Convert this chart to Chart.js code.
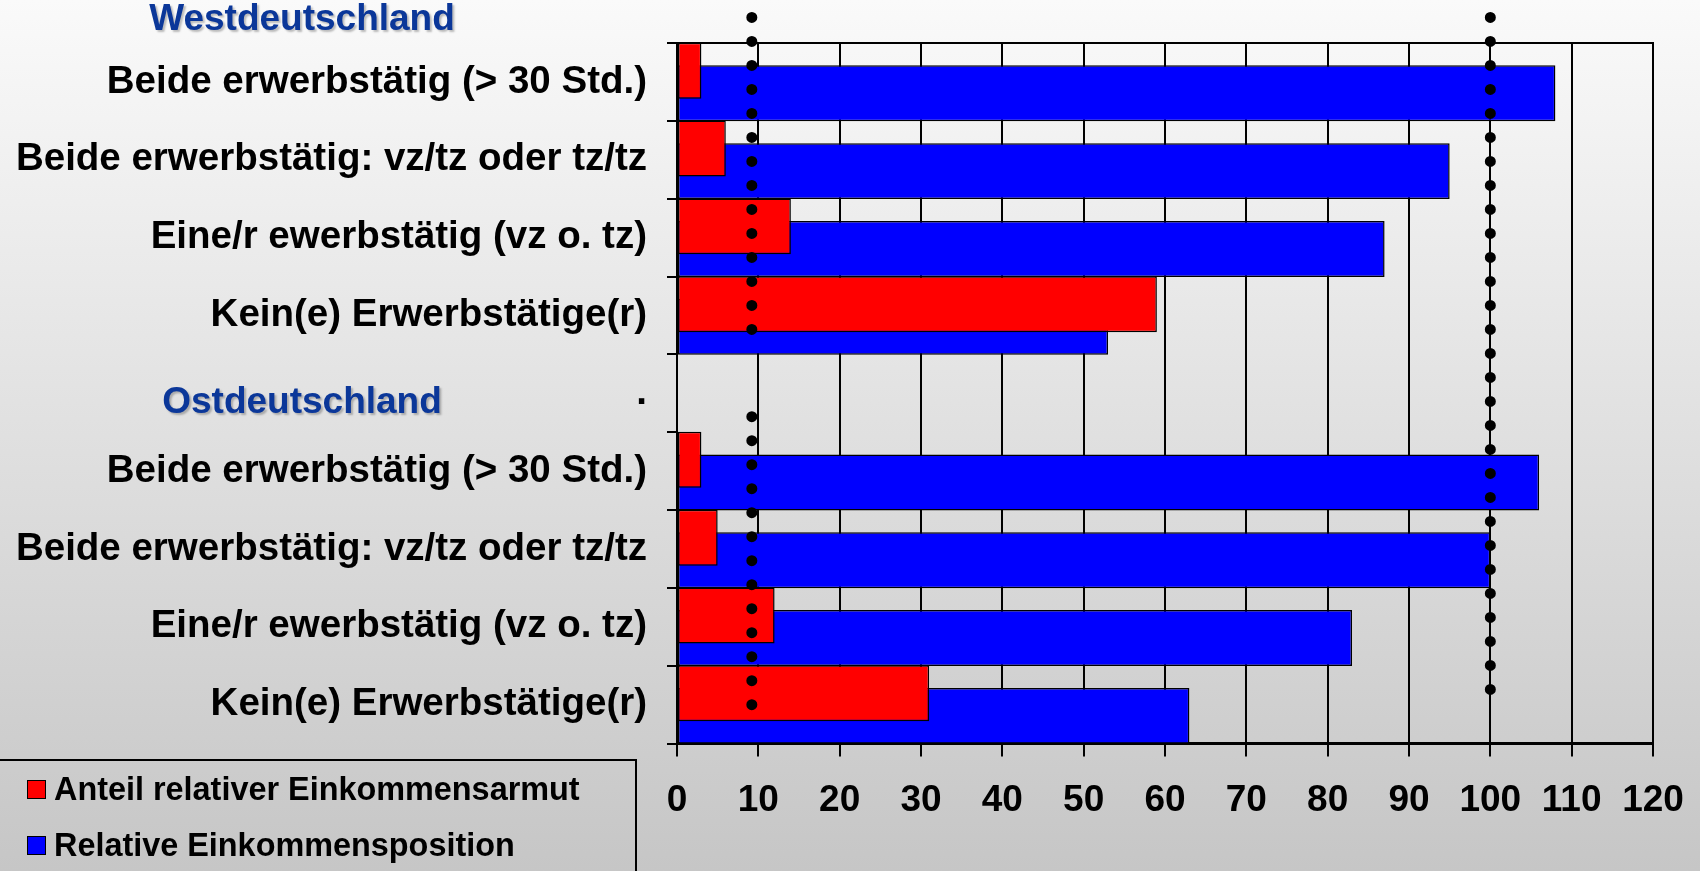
<!DOCTYPE html>
<html lang="de">
<head>
<meta charset="utf-8">
<title>Einkommensarmut und Einkommensposition nach Erwerbsbeteiligung</title>
<script src="https://cdn.jsdelivr.net/npm/chart.js@4.4.1/dist/chart.umd.min.js"></script>
<style>
  html, body { margin: 0; padding: 0; }
  body {
    width: 1700px; height: 871px; overflow: hidden; position: relative;
    background: linear-gradient(#fafafa, #c6c6c6);
    font-family: "Liberation Sans", Arial, sans-serif;
  }
  #wrap { position: absolute; left: 0; top: 0; width: 1700px; height: 871px; }
  #legend {
    position: absolute; left: -2px; top: 759px; width: 639px; height: 130px;
    border: 2px solid #000; box-sizing: border-box;
  }
  #legend .item {
    position: absolute; left: 27px; height: 40px; line-height: 40px;
    display: flex; align-items: center; white-space: nowrap;
    font-weight: bold; font-size: 32.4px; color: #000;
  }
  #legend .swatch { width: 17px; height: 17px; border: 1.5px solid #000; margin-right: 8px; }
</style>
</head>
<body>
<div id="wrap"><canvas id="chart"></canvas></div>
<div id="legend"></div>
<script>
  // categories top to bottom; "." is the spacer row under the Ostdeutschland heading
  var categories = [
    "Beide erwerbstätig (> 30 Std.)",
    "Beide erwerbstätig: vz/tz oder tz/tz",
    "Eine/r ewerbstätig (vz o. tz)",
    "Kein(e) Erwerbstätige(r)",
    ".",
    "Beide erwerbstätig (> 30 Std.)",
    "Beide erwerbstätig: vz/tz oder tz/tz",
    "Eine/r ewerbstätig (vz o. tz)",
    "Kein(e) Erwerbstätige(r)"
  ];
  var seriesNames = ["Anteil relativer Einkommensarmut", "Relative Einkommensposition"];
  var armutValues = [3, 6, 14, 59, null, 3, 5, 12, 31];
  var positionValues = [108, 95, 87, 53, null, 106, 100, 83, 63];
  var xTicks = [0, 10, 20, 30, 40, 50, 60, 70, 80, 90, 100, 110, 120];
  var regionTitles = ["Westdeutschland", "Ostdeutschland"];
  var armutMeanWest = 9.2;
  var armutMeanEast = 9.2;
  var positionReference = 100;

  var seriesColors = ["#ff0000", "#0000ff"];
  var FONT = '"Liberation Sans", Arial, sans-serif';
  Chart.defaults.font.family = FONT;
  Chart.defaults.color = "#000";

  // dotted reference lines + region headings
  var overlay = {
    id: "overlay",
    afterDatasetsDraw: function (chart) {
      var ctx = chart.ctx, x = chart.scales.x, y = chart.scales.y;
      function dots(value, from, to) {
        var px = x.getPixelForValue(value);
        ctx.save();
        ctx.strokeStyle = "#000";
        ctx.lineWidth = 11;
        ctx.lineCap = "round";
        ctx.setLineDash([0, 24]);
        ctx.beginPath();
        ctx.moveTo(px, y.getPixelForValue(from));
        ctx.lineTo(px, y.getPixelForValue(to) + 1);
        ctx.stroke();
        ctx.restore();
      }
      dots(armutMeanWest, -0.83, 3.17);
      dots(positionReference, -0.83, 8.09);
      dots(armutMeanEast, 4.3, 7.99);

      ctx.save();
      ctx.font = "bold 37px " + FONT;
      ctx.textAlign = "center";
      ctx.textBaseline = "middle";
      ctx.fillStyle = "#0b3799";
      ctx.shadowColor = "rgba(0,0,0,0.25)";
      ctx.shadowOffsetX = 2;
      ctx.shadowOffsetY = 2;
      ctx.shadowBlur = 2;
      ctx.fillText(regionTitles[0], 302, chart.chartArea.top - 23);
      ctx.fillText(regionTitles[1], 302, y.getPixelForValue(4) + 9);
      ctx.restore();
    }
  };

  new Chart(document.getElementById("chart"), {
    type: "bar",
    data: {
      labels: categories,
      datasets: [
        {
          label: seriesNames[0],
          data: armutValues,
          backgroundColor: seriesColors[0],
          borderColor: "#000",
          borderWidth: 1.5,
          borderSkipped: false
        },
        {
          label: seriesNames[1],
          data: positionValues,
          backgroundColor: seriesColors[1],
          borderColor: "#000",
          borderWidth: 1.5,
          borderSkipped: false
        }
      ]
    },
    options: {
      indexAxis: "y",
      responsive: true,
      maintainAspectRatio: false,
      animation: false,
      categoryPercentage: 0.58,
      barPercentage: 2.48, // >1 so the two bars of a row overlap
      layout: { padding: { top: 41, right: 47, left: 0, bottom: 0 } },
      plugins: { legend: { display: false }, tooltip: { enabled: false } },
      scales: {
        x: {
          type: "linear",
          position: "bottom",
          min: 0,
          max: 120,
          afterBuildTicks: function (s) { s.ticks = xTicks.map(function (v) { return { value: v }; }); },
          afterFit: function (s) {
            s.height = 127.5;
            s.paddingLeft = 0;
            s.paddingRight = 0; // "120" fits into the right padding
          },
          grid: { color: "#000", lineWidth: 2, tickLength: 13 },
          border: { color: "#000", width: 3 },
          ticks: { font: { size: 37, weight: "bold" }, padding: 22, maxRotation: 0, autoSkip: false }
        },
        x2: {
          type: "linear",
          position: "top",
          min: 0,
          max: 120,
          afterFit: function (s) { s.height = 0; s.paddingLeft = 0; s.paddingRight = 0; },
          grid: { drawOnChartArea: false, drawTicks: false },
          ticks: { display: false },
          border: { color: "#000", width: 2 }
        },
        y: {
          afterFit: function (s) { s.width = 677; },
          grid: { drawOnChartArea: false, color: "#000", lineWidth: 2, tickLength: 10 },
          border: { color: "#000", width: 2 },
          ticks: { font: { size: 38.5, weight: "bold" }, padding: 20, autoSkip: false }
        }
      }
    },
    plugins: [overlay]
  });

  // legend box in the lower left corner
  var legend = document.getElementById("legend");
  [8, 64].forEach(function (top, i) {
    var item = document.createElement("div");
    item.className = "item";
    item.style.top = top + "px";
    var sw = document.createElement("span");
    sw.className = "swatch";
    sw.style.background = seriesColors[i];
    item.appendChild(sw);
    item.appendChild(document.createTextNode(seriesNames[i]));
    legend.appendChild(item);
  });
</script>
</body>
</html>
